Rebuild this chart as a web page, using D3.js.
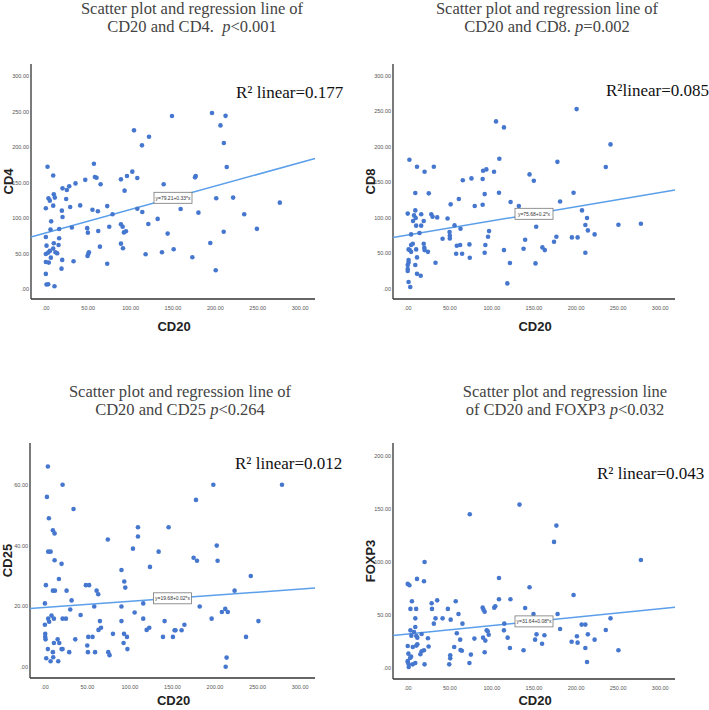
<!DOCTYPE html>
<html>
<head>
<meta charset="utf-8">
<script src="https://cdn.jsdelivr.net/npm/d3@7"></script>
<style>
  body { margin: 0; background: #fff; }
  .title { font-family: "Liberation Serif", "Times New Roman", serif; font-size: 16.5px; fill: #444; }
  .rsq { font-family: "Liberation Serif", "Times New Roman", serif; font-size: 17px; fill: #111; }
  .axis-title { font-family: "Liberation Sans", Arial, sans-serif; font-size: 13px; font-weight: bold; fill: #222; }
  .tick-label { font-family: "Liberation Sans", Arial, sans-serif; font-size: 5.5px; fill: #555; }
  .eq { font-family: "Liberation Sans", Arial, sans-serif; font-size: 5px; fill: #333; }
</style>
</head>
<body>
<script>
var w = 709;
var h = 710;

// CD20 (x) vs marker (y)
var cd4Points = [
  [2,172.5],[8.7,160],[3.1,128],[4.7,124.7],[0,114],[9.4,133.6],[10.6,129],[8.7,117.7],[6.3,95.6],
  [5.5,84],[15.7,84.8],[18.9,110.6],[19.7,101.7],[19.7,142],[24,127],[24.8,139.7],[27.6,145],[35,149],
  [28.7,115.8],[30.7,87],[40.5,118],[32.7,39.4],[0,73.6],[0.8,61.4],[0,49.7],[2.8,51.6],[4.7,54],
  [0,38.4],[3.5,37.5],[5.9,44.5],[0,21.6],[0.8,6.6],[2.8,7],[10.2,4.2],[9.4,64.7],[8.7,57.2],[11.4,52],
  [13.4,50.6],[15,62.3],[15.7,71.7],[19.3,41.3],[18.5,29],[46.5,154],[56.7,176.7],[57.9,158],[59.8,157],
  [64.6,147.7],[55,112],[61.4,109.7],[48.8,86],[49.6,79.7],[50,49.7],[50.8,52],[49.2,46.9],[61.8,82],
  [63.8,60],[72.4,117],[74.8,88],[78.7,105.5],[72.4,36],[88.6,154.7],[92.9,138.8],[95.7,159.4],[102,165.5],
  [104,223.6],[107.9,156.6],[107.9,113.4],[88.6,91.4],[90.6,88],[92.1,80],[94.5,81.6],[88.6,64.2],[91,57.7],
  [113.4,202.5],[121.7,214.7],[113.8,108.8],[120.9,91.9],[117.7,49.2],[131.9,99],[139,147.7],[148.8,243.8],
  [143.7,78.3],[137,52],[150.8,56.3],[159,113],[172.8,45],[176,157.5],[176.8,159.4],[180,107.8],[196,248],
  [206,230.6],[212,244],[210,205.8],[213.4,172],[201,128],[194,65],[200.4,26.7],[209.8,81],[220.9,129],
  [234,105.5],[249,85],[276,121.9]
];
var cd8Points = [
  [2,182],[0,106],[11,172],[20,165],[31,172],[9,135],[25,134.5],[9,110.5],[7.5,103.4],[9.5,99.7],
  [6.3,95.5],[10,89],[16,105],[16,89],[19,95.5],[14,78.5],[4,76.6],[28,105],[29.5,101.6],[35,100.6],
  [6,63.5],[4,61.6],[1,55.5],[2.4,54.5],[4,52],[10,55.5],[19,63.5],[19.7,57.8],[20,54.5],[24,52],
  [1,40.4],[1,37],[0,33.4],[0,27.7],[0,25],[9,33.4],[11,44.2],[11,21],[15.4,18.3],[33,36.7],[1,9.4],
  [3,2.4],[41.4,70.5],[47.3,99],[51,119],[49.7,80],[50,74.8],[50,71],[55.6,89.3],[60.7,126.5],[62.7,84.6],
  [65.4,153],[58.3,60.7],[62.3,61.6],[57.5,49.4],[64.6,49.4],[75.7,155.6],[79.6,116.6],[73.3,62.5],
  [73.7,43.7],[89.5,166.5],[93.4,168.3],[89,154.7],[91.4,133.5],[89,118.5],[102.5,165],[104.9,236],
  [108.8,183.4],[108.4,135.4],[96.6,81.3],[95.4,73.4],[92.2,61.6],[91.4,50.8],[114.3,227.6],[122.2,122.3],
  [114.3,54.5],[121.4,36.2],[118.3,7.5],[132,116.6],[144.7,161.3],[149.8,152.3],[152.6,87.5],[139.5,69],
  [137.6,56.4],[151.8,35.7],[160,58.3],[162.8,54.5],[177.8,179],[181,123],[176.6,73.4],[173.8,66.3],
  [200.6,253.4],[197,135.4],[195,72.4],[201.8,72.4],[207,110.5],[213,99.7],[211,89.8],[214,82.3],
  [211,50.8],[222,76.6],[235.3,171.6],[240.9,203.6],[250.3,90.3],[277,91.7]
];
var cd25Points = [
  [3.5,66],[20.8,60],[2.4,56],[4.7,49],[33.7,52],[3.9,38],[6.7,38],[9.4,45],[11.4,44],[11.4,35.2],
  [19.6,34],[1.2,27],[16.5,29],[9.4,25.2],[11.8,25.2],[25.5,25.2],[0,21],[31.4,22],[29.8,19],[0,14],
  [3.9,16],[5,15],[7.8,17],[10.6,16],[20.8,16],[24.7,16],[42,17.2],[0.4,11],[0.4,10],[0.8,9.2],[3.5,6],
  [1.6,3],[6.7,2],[9.4,5],[9.8,3.3],[10.6,8],[15,9.2],[16.9,8],[15.7,2],[19.6,6],[20.8,6],[28.6,5],
  [35.7,9.2],[48.2,27],[52,27],[58,20],[60.8,25.2],[62.7,24],[64.7,15.2],[66,13],[63,12.3],[51,10],
  [56,10],[49.8,7.2],[50.6,5],[59,5],[74,42],[80,11],[74.5,5],[76,4],[90,32],[93.3,28.2],[94.5,26.2],
  [90,20],[90,15.2],[93,11],[96.5,10],[92.5,8],[97,6],[103.5,39],[109.4,46],[109.4,43],[105.5,18],
  [123.5,33],[115.6,21],[115.6,16],[119.6,12.3],[122.7,13],[133.7,38],[145.4,46],[140.7,15.2],[138.8,10],
  [150.5,10],[152.5,12.2],[153.5,12.2],[160.7,12.2],[164,14],[174.8,36],[178.8,35],[177.6,55],[182,20],
  [198,60],[202,40],[203,35],[196,16],[208,18.2],[212,19.2],[215,18.2],[223,25.2],[213.6,3.2],[212.5,0.2],
  [236.4,10],[242,30],[251,15.2],[278.7,60]
];
var foxp3Points = [
  [132.8,153.8],[73.7,144.7],[176.6,134],[173.8,118.6],[277,101.6],[20,99.7],[0,79],[2,77.7],[11,83.7],
  [19.3,81.5],[108.4,84.6],[144.7,75.8],[197,68.6],[5,62.6],[3.2,55.4],[10,55.4],[28.4,60.7],[35,63.5],
  [28.8,55.4],[57,62.6],[60.3,50.6],[47.7,55.4],[41.4,46.5],[33,46.5],[31,41.5],[51,45.3],[65,41.5],
  [9,46.5],[9,38.4],[89,56.6],[90,54.7],[91.4,52.8],[102.8,56.6],[104,57.9],[108.4,64.5],[122,64.5],
  [139.5,56.3],[149.4,50.6],[178,50.6],[114.7,41.5],[114.3,35.2],[118.7,28.3],[121.4,18.6],[137.6,16.4],
  [93.8,35.2],[95,34.3],[96.2,31.1],[92.2,25.5],[89.5,28.3],[91.4,14.5],[79.2,27.4],[75,12.3],[73.3,4.4],
  [62.7,16.7],[64.3,16],[62.3,26.4],[58.3,32.4],[55.2,19.5],[50.5,11.6],[50.5,8.8],[49.3,3.1],[153,31.4],
  [151.3,26.4],[162.4,30.5],[159.6,22.6],[181,36.5],[194.7,24.5],[201,29.6],[201.8,23.6],[206.6,40.6],
  [211,40.6],[211,18.6],[214,31.4],[213,5.3],[222,26.4],[235.3,35.5],[240.9,46.5],[250.3,16.4],[3.2,35.2],
  [4.3,30.2],[7.5,33.6],[10.2,29.9],[11.4,28.3],[16.5,31.8],[24,27.7],[24.8,20],[11.4,22],[10.2,20.8],
  [6,19.5],[0,20.4],[15,12.6],[16.5,15.4],[19.3,16.4],[9,4.4],[6,3.1],[20,3.1],[0.8,13.2],[4,10.4],
  [2.8,9.1],[0,6.3],[0,5.3],[1.2,3.1],[1.2,0.6]
];

// regression fits [intercept, slope] and R squared
var fits = [[79.21, 0.33], [75.68, 0.2], [19.68, 0.02], [31.64, 0.08]];
var rsqText = ["R\u00b2 linear=0.177", "R\u00b2linear=0.085", "R\u00b2 linear=0.012", "R\u00b2 linear=0.043"];
var eqText = ["y=79.21+0.33*x", "y=75.68+0.2*x", "y=19.68+0.02*x", "y=31.64+0.08*x"];
var yNames = ["CD4", "CD8", "CD25", "FOXP3"];
var titleLine1 = ["Scatter plot and regression line of", "Scatter plot and regression line of",
                  "Scatter plot and regression line of", "Scatter plot and regression line"];
var titleLine2 = [["CD20 and CD4.  ", "p", "<0.001"], ["CD20 and CD8. ", "p", "=0.002"],
                  ["CD20 and CD25 ", "p", "<0.264"], ["of CD20 and FOXP3 ", "p", "<0.032"]];

var xTicks = [0, 50, 100, 150, 200, 250, 300];
var yTickSets = [[0, 50, 100, 150, 200, 250, 300], [0, 50, 100, 150, 200, 250, 300],
                 [0, 20, 40, 60], [0, 50, 100, 150, 200]];
var yDomains = [[-13.7, 317], [-14.5, 317], [-3.5, 73.7], [-10.7, 211.9]];
var xDomain = [-17.5, 317.5];

var allPoints = [cd4Points, cd8Points, cd25Points, foxp3Points];

// layout of each panel (tx/ty title, rx/ry r-squared, xt x-title baseline offset)
var panels = [
  {left: 31,  top: 64,  right: 315, bottom: 299, tx: 192, ty: 14,  rx: 236, ry: 98,  xt: 32},
  {left: 393, top: 64,  right: 675, bottom: 299, tx: 547, ty: 14,  rx: 606, ry: 96,  xt: 32},
  {left: 30,  top: 443, right: 315, bottom: 678, tx: 180, ty: 397, rx: 235, ry: 469, xt: 27},
  {left: 393, top: 443, right: 675, bottom: 679, tx: 565, ty: 397, rx: 597, ry: 479, xt: 26}
];

var svg = d3.select("body").append("svg")
    .attr("width", w)
    .attr("height", h);

var fmt = function(d) { return d === 0 ? ".00" : d3.format(".2f")(d); };

panels.forEach(function(p, i) {
  var x = d3.scaleLinear().domain(xDomain).range([p.left, p.right]);
  var y = d3.scaleLinear().domain(yDomains[i]).range([p.bottom, p.top]);
  var g = svg.append("g");

  // title
  g.append("text").attr("class", "title")
      .attr("x", p.tx).attr("y", p.ty)
      .attr("text-anchor", "middle")
      .text(titleLine1[i]);
  var t2 = g.append("text").attr("class", "title")
      .attr("x", p.tx).attr("y", p.ty + 18)
      .attr("text-anchor", "middle");
  t2.append("tspan").text(titleLine2[i][0]).style("white-space", "pre");
  t2.append("tspan").attr("font-style", "italic").text(titleLine2[i][1]);
  t2.append("tspan").text(titleLine2[i][2]);

  // axes
  g.append("line")
      .attr("x1", p.left).attr("x2", p.left)
      .attr("y1", p.top).attr("y2", p.bottom)
      .attr("stroke", "#333").attr("stroke-width", 1.3);
  g.append("line")
      .attr("x1", p.left).attr("x2", p.right)
      .attr("y1", p.bottom).attr("y2", p.bottom)
      .attr("stroke", "#333").attr("stroke-width", 1.3);

  g.selectAll(".ytick").data(yTickSets[i]).enter().append("text")
      .attr("class", "tick-label")
      .attr("x", p.left - 2)
      .attr("y", function(d) { return y(d); })
      .attr("dy", "0.35em")
      .attr("text-anchor", "end")
      .text(fmt);

  g.selectAll(".xtick").data(xTicks).enter().append("text")
      .attr("class", "tick-label")
      .attr("x", function(d) { return x(d); })
      .attr("y", p.bottom + 9)
      .attr("dy", "0.35em")
      .attr("text-anchor", "middle")
      .text(fmt);

  // axis titles
  g.append("text").attr("class", "axis-title")
      .attr("transform", "translate(" + (p.left - 18) + "," + ((p.top + p.bottom) / 2) + ") rotate(-90)")
      .attr("text-anchor", "middle")
      .text(yNames[i]);
  g.append("text").attr("class", "axis-title")
      .attr("x", (p.left + p.right) / 2 + 1)
      .attr("y", p.bottom + p.xt)
      .attr("text-anchor", "middle")
      .text("CD20");

  // regression line
  var fit = fits[i];
  g.append("line")
      .attr("x1", x(xDomain[0])).attr("y1", y(fit[0] + fit[1] * xDomain[0]))
      .attr("x2", x(xDomain[1])).attr("y2", y(fit[0] + fit[1] * xDomain[1]))
      .attr("stroke", "#5b9fea").attr("stroke-width", 1.5);

  // dots
  g.selectAll("circle").data(allPoints[i]).enter().append("circle")
      .attr("cx", function(d) { return x(d[0]); })
      .attr("cy", function(d) { return y(d[1]); })
      .attr("r", 2.3)
      .attr("fill", "#4677cf");

  // equation box at x = 150
  var ex = x(150), ey = y(fit[0] + fit[1] * 150);
  g.append("rect")
      .attr("x", ex - 19).attr("y", ey - 5.5)
      .attr("width", 38).attr("height", 11)
      .attr("fill", "#fff").attr("stroke", "#777").attr("stroke-width", 0.8);
  g.append("text").attr("class", "eq")
      .attr("x", ex).attr("y", ey)
      .attr("dy", "0.35em")
      .attr("text-anchor", "middle")
      .text(eqText[i]);

  // R squared
  g.append("text").attr("class", "rsq")
      .attr("x", p.rx).attr("y", p.ry)
      .text(rsqText[i]);
});
</script>
</body>
</html>
